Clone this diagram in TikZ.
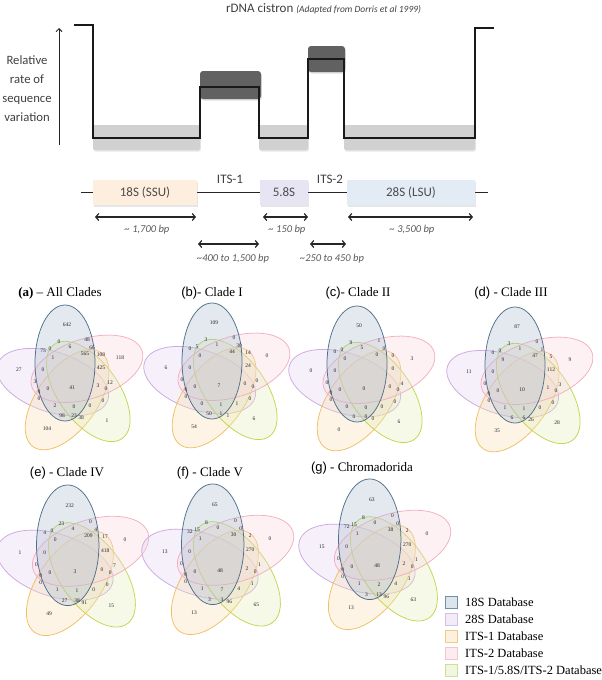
\documentclass[tikz,border=0pt]{standalone}
\usepackage{fontspec}
\setmainfont{Liberation Serif}
\newfontfamily\carlito{Carlito}
\newfontfamily\arialf{Liberation Sans}
\usetikzlibrary{shadows,arrows.meta}
\definecolor{p18d}{HTML}{4F6F8A}\definecolor{p18f}{HTML}{A9BDCF}
\definecolor{p28d}{HTML}{CDA9E0}\definecolor{p28f}{HTML}{E2D0EE}
\definecolor{p1d}{HTML}{F0C062}\definecolor{p1f}{HTML}{F8DDB0}
\definecolor{p2d}{HTML}{F2AFC2}\definecolor{p2f}{HTML}{F8D5DE}
\definecolor{palld}{HTML}{C2D64E}\definecolor{pallf}{HTML}{E3EDB5}
\definecolor{l18d}{HTML}{7290A8}\definecolor{l18f}{HTML}{DCE4EC}
\definecolor{l28d}{HTML}{D9BDE6}\definecolor{l28f}{HTML}{F2ECF8}
\definecolor{l1d}{HTML}{F1CB85}\definecolor{l1f}{HTML}{FCF0DF}
\definecolor{l2d}{HTML}{F6C3D1}\definecolor{l2f}{HTML}{FCECF0}
\definecolor{lalld}{HTML}{CDE09A}\definecolor{lallf}{HTML}{F1F6E0}
\def\slotx{{-5,-13,15,20,-2,13,-29,-22,-19,29,48,-53,-29,0,29,38,26,34,-37,-33,-24,-33,31,-17,2,18,-10,2,9,35,-25}}
\def\sloty{{-56,-39,-41,-33,-34,-27,-30,-32,-23,-26,-23,-11,-11,7,-13,2,5,8,1,11,8,18,20,25,26,25,35,35,37,40,48}}
\newcommand\venndiag[5]{%
  \begin{scope}[shift={(#2,#3)},scale=#4]
    \foreach \k/\cd/\cf in {4/p28d/p28f,3/p1d/p1f,2/palld/pallf,1/p2d/p2f,0/p18d/p18f}{
      \draw[draw=\cd, fill=\cf, fill opacity=.33, line width=.75pt, rotate=-72*\k] (-7,-18) ellipse [x radius=30,y radius=58];
    }
    \foreach \n [count=\i] in {#5}{
      \pgfmathsetmacro\px{\slotx[\i-1]}
      \pgfmathsetmacro\py{\sloty[\i-1]}
      \node[vnum] (#1n\i) at (\px,\py) {\n};
    }
  \end{scope}
}
\begin{document}
\begin{tikzpicture}[x=1pt,y=-1pt,
  vnum/.style={font=\fontsize{5.5}{6}\selectfont, text=black!85, inner sep=0pt},
  vtitle/.style={font=\fontsize{13}{15}\selectfont, inner sep=0pt},
  graybar/.style={fill=black!18, rounded corners=2pt, drop shadow={opacity=.2,shadow xshift=.8pt,shadow yshift=-1.5pt}},
  darkbox/.style={fill=black!62, rounded corners=3pt, drop shadow={opacity=.25,shadow xshift=.8pt,shadow yshift=-1.5pt}},
  genebox/.style={inner sep=0pt, minimum height=25pt, drop shadow={opacity=.2,shadow xshift=.8pt,shadow yshift=-1.5pt}, font=\carlito\fontsize{13}{15}\selectfont, text=black!70},
  dimarrow/.style={{Straight Barb[length=3pt,width=7pt]}-{Straight Barb[length=3pt,width=7pt]}, line width=1.2pt, black!85},
  bplabel/.style={font=\carlito\itshape\fontsize{10.5}{12}\selectfont, text=black!65, inner sep=0pt},
  toptext/.style={font=\carlito\fontsize{13}{15}\selectfont, text=black!75, inner sep=0pt},
  legbox/.style={minimum width=12pt, minimum height=12pt, inner sep=0pt, line width=1pt},
  legtext/.style={anchor=west, font=\fontsize{12.5}{14}\selectfont, inner sep=0pt}
]
\useasboundingbox (0,0) rectangle (602,680);

% ---------- top: rDNA cistron ----------
\node[toptext, anchor=base west] (ttl) at (226,12.3) {rDNA cistron {\itshape\fontsize{9.5}{11}\selectfont (Adapted from Dorris et al 1999)}};
\coordinate (axb) at (59,145);
\coordinate (axt) at (59,28);
\draw[-{Straight Barb[length=3pt,width=6pt]}, line width=1pt, black!85] (axb) -- (axt);
\node[toptext, align=center, font=\carlito\fontsize{12.7}{19}\selectfont] (ylab) at (27,89) {Relative\\rate of\\sequence\\variation};

\fill[graybar] (93,125) rectangle (200,150);
\fill[graybar] (259,125) rectangle (308,150);
\fill[graybar] (344,125) rectangle (475,150);
\fill[darkbox] (200,71) rectangle (261,99);
\fill[darkbox] (308,46) rectangle (345,72);
\draw[line width=1.3pt, black!90] (74,25) -- (93,25) -- (93,138) -- (200,138) -- (200,87) -- (259,87) -- (259,138) -- (308,138) -- (308,59) -- (344,59) -- (344,138) -- (475,138) -- (475,28) -- (494,28);

% gene map
\coordinate (gl) at (81,192.5);
\coordinate (gr) at (488,192.5);
\draw[line width=1.2pt, black!85] (gl) -- (gr);
\node[genebox, fill={rgb,255:red,253;green,238;blue,222}, minimum width=104pt] (b18) at (145,192.5) {18S (SSU)};
\node[genebox, fill={rgb,255:red,231;green,229;blue,243}, minimum width=48pt] (b58) at (284,192.5) {5.8S};
\node[genebox, fill={rgb,255:red,227;green,235;blue,245}, minimum width=128pt] (b28) at (411,192.5) {28S (LSU)};
\node[toptext] (its1) at (230,179) {ITS-1};
\node[toptext] (its2) at (330,179) {ITS-2};

\coordinate (d18a) at (95,217);  \coordinate (d18b) at (196,217);
\coordinate (d58a) at (263,217); \coordinate (d58b) at (308,217);
\coordinate (d28a) at (348,217); \coordinate (d28b) at (473,217);
\coordinate (di1a) at (198,244); \coordinate (di1b) at (259,244);
\coordinate (di2a) at (310,244); \coordinate (di2b) at (346,244);
\draw[dimarrow] (d18a) -- (d18b);
\draw[dimarrow] (d58a) -- (d58b);
\draw[dimarrow] (d28a) -- (d28b);
\draw[dimarrow] (di1a) -- (di1b);
\draw[dimarrow] (di2a) -- (di2b);
\node[bplabel] (l18) at (147,230) {\textasciitilde{} 1,700 bp};
\node[bplabel] (l58) at (287,230) {\textasciitilde{} 150 bp};
\node[bplabel] (l28) at (412,230) {\textasciitilde{} 3,500 bp};
\node[bplabel] (li1) at (233,259) {\textasciitilde400 to 1,500 bp};
\node[bplabel] (li2) at (332,259) {\textasciitilde250 to 450 bp};

% ---------- Venn diagrams ----------
\node[vtitle] (ta) at (60,293) {\textbf{(a)} -- All Clades};
\node[vtitle] (tb) at (212,293) {{\arialf (b)}- Clade I};
\node[vtitle] (tc) at (358,293) {{\arialf (c)}- Clade II};
\node[vtitle] (td) at (511,293) {{\arialf (d)} - Clade III};
\node[vtitle] (te) at (67,473) {{\arialf (e)} - Clade IV};
\node[vtitle] (tf) at (210,473) {{\arialf (f)} - Clade V};
\node[vtitle] (tg) at (362,468) {{\arialf (g)} - Chromadorida};

\venndiag{a}{72}{381}{1}{642,0,48,66,6,565,75,0,1,108,118,27,0,41,425,12,3,0,3,4,0,0,0,2,0,0,98,23,38,1,104}
\venndiag{b}{219}{379}{1}{109,3,0,30,1,44,0,5,0,14,0,6,0,7,24,0,0,0,0,0,0,0,0,0,1,1,50,1,1,6,54}
\venndiag{c}{364}{382}{1}{50,9,1,0,5,0,0,0,0,0,3,0,0,0,0,4,0,0,0,0,0,0,0,0,0,0,0,0,0,6,0}
\venndiag{d}{522}{383}{1}{87,3,0,1,1,47,0,0,9,5,9,11,0,10,112,3,1,0,0,0,0,0,0,1,1,0,6,6,26,28,35}
\venndiag{e}{75}{564}{1.04}{232,23,0,4,4,209,4,0,0,17,0,1,0,3,418,7,0,0,0,0,0,0,0,1,1,0,27,38,91,15,49}
\venndiag{f}{220}{563}{1.04}{65,8,0,0,0,30,32,15,1,2,0,13,0,48,270,1,2,0,0,0,0,0,1,1,7,4,3,3,96,65,13}
\venndiag{g}{377}{558}{1.04}{63,8,0,0,0,38,72,15,1,2,0,15,0,48,270,1,2,0,0,0,0,0,1,1,2,4,3,13,96,63,13}

% ---------- legend ----------
\node[legbox, draw=l18d, fill=l18f] (k1) at (451,602) {};
\node[legbox, draw=l28d, fill=l28f] (k2) at (451,619) {};
\node[legbox, draw=l1d, fill=l1f] (k3) at (451,636) {};
\node[legbox, draw=l2d, fill=l2f] (k4) at (451,653) {};
\node[legbox, draw=lalld, fill=lallf] (k5) at (451,670) {};
\node[legtext] (k1t) at (465,602) {18S Database};
\node[legtext] (k2t) at (465,619) {28S Database};
\node[legtext] (k3t) at (465,636) {ITS-1 Database};
\node[legtext] (k4t) at (465,653) {ITS-2 Database};
\node[legtext] (k5t) at (465,670) {ITS-1/5.8S/ITS-2 Database};
\end{tikzpicture}
\end{document}
